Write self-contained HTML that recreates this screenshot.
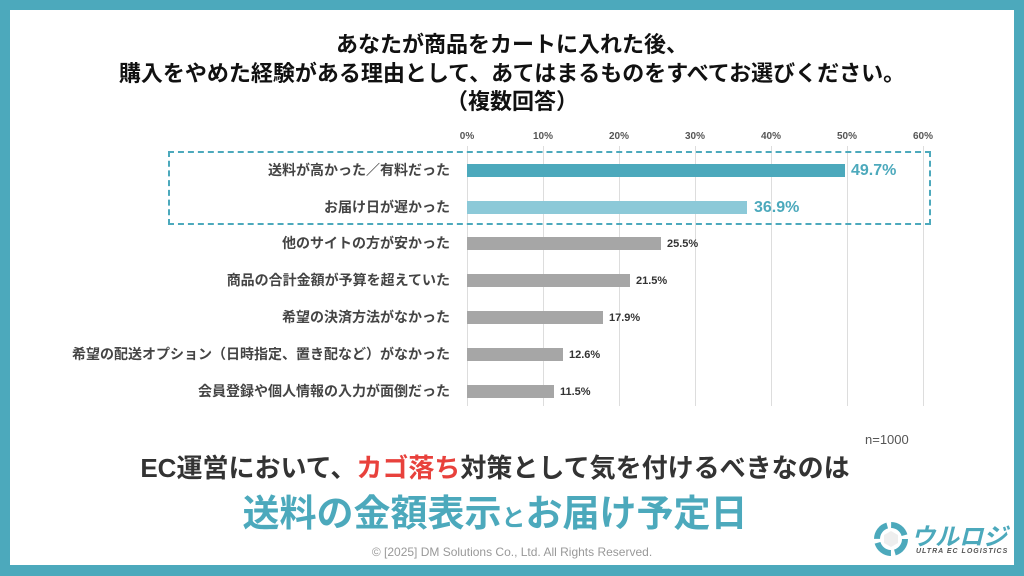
<!DOCTYPE html>
<html><head><meta charset="utf-8"><style>
*{margin:0;padding:0;box-sizing:border-box}
body{width:1024px;height:576px;background:#4ca9bc;position:relative;overflow:hidden;font-family:"Liberation Sans","Noto Sans CJK JP",sans-serif}
.inner{position:absolute;left:10px;top:10px;width:1004px;height:555px;background:#fff}
.a{position:absolute;white-space:nowrap}
.title{left:0;width:1024px;text-align:center;font-weight:bold;font-size:22px;color:#111;line-height:27px}
.tick{font-size:10px;font-weight:bold;color:#555;top:131px;transform:translateX(-50%)}
.grid{position:absolute;top:146px;width:1px;height:260px;background:#ddd}
.lab{right:574px;font-size:14px;font-weight:bold;color:#444;transform:translateY(-50%)}
.bar{position:absolute;left:467px;height:13px;background:#a6a6a6}
.val{font-size:11px;font-weight:bold;color:#333;transform:translateY(-50%)}
</style></head><body>
<div class="inner"></div>
<div class="a title" style="top:31px">あなたが商品をカートに入れた後、</div>
<div class="a title" style="top:60px">購入をやめた経験がある理由として、あてはまるものをすべてお選びください。</div>
<div class="a title" style="top:88px">（複数回答）</div>
<div class="a tick" style="left:467px">0%</div>
<div class="a tick" style="left:543px">10%</div>
<div class="a tick" style="left:619px">20%</div>
<div class="a tick" style="left:695px">30%</div>
<div class="a tick" style="left:771px">40%</div>
<div class="a tick" style="left:847px">50%</div>
<div class="a tick" style="left:923px">60%</div>
<div class="grid" style="left:467px"></div><div class="grid" style="left:543px"></div><div class="grid" style="left:619px"></div><div class="grid" style="left:695px"></div><div class="grid" style="left:771px"></div><div class="grid" style="left:847px"></div><div class="grid" style="left:923px"></div>
<div style="position:absolute;left:168px;top:151px;width:763px;height:74px;border:2.5px dashed #4ca9bc"></div>

<div class="a lab" style="top:170px">送料が高かった／有料だった</div>
<div class="bar" style="top:164px;width:378px;background:#4ca9bc"></div>
<div class="a val" style="left:851px;top:171px;font-size:16px;color:#4ca9bc">49.7%</div>

<div class="a lab" style="top:207px">お届け日が遅かった</div>
<div class="bar" style="top:201px;width:280px;background:#8cc9d8"></div>
<div class="a val" style="left:754px;top:208px;font-size:16px;color:#4ca9bc">36.9%</div>

<div class="a lab" style="top:243px">他のサイトの方が安かった</div>
<div class="bar" style="top:237px;width:194px"></div>
<div class="a val" style="left:667px;top:244px">25.5%</div>

<div class="a lab" style="top:280px">商品の合計金額が予算を超えていた</div>
<div class="bar" style="top:274px;width:163px"></div>
<div class="a val" style="left:636px;top:281px">21.5%</div>

<div class="a lab" style="top:317px">希望の決済方法がなかった</div>
<div class="bar" style="top:311px;width:136px"></div>
<div class="a val" style="left:609px;top:318px">17.9%</div>

<div class="a lab" style="top:354px">希望の配送オプション（日時指定、置き配など）がなかった</div>
<div class="bar" style="top:348px;width:96px"></div>
<div class="a val" style="left:569px;top:355px">12.6%</div>

<div class="a lab" style="top:391px">会員登録や個人情報の入力が面倒だった</div>
<div class="bar" style="top:385px;width:87px"></div>
<div class="a val" style="left:560px;top:392px">11.5%</div>

<div class="a" style="left:865px;top:432px;font-size:13px;color:#555">n=1000</div>
<div class="a" style="left:0;width:990px;text-align:center;top:448px;font-size:26px;font-weight:bold;color:#333">EC運営において、<span style="color:#e8413c">カゴ落ち</span>対策として気を付けるべきなのは</div>
<div class="a" style="left:0;width:990px;text-align:center;top:483px;font-size:37px;font-weight:bold;color:#4ca9bc">送料の金額表示<span style="font-size:24px">と</span>お届け予定日</div>
<div class="a" style="left:0;width:1024px;text-align:center;top:545px;font-size:12px;color:#999">© [2025] DM Solutions Co., Ltd. All Rights Reserved.</div>

<svg style="position:absolute;left:874px;top:522px" width="34" height="34" viewBox="0 0 34 34">
<circle cx="17" cy="17" r="14" fill="none" stroke="#4ca9bc" stroke-width="6" stroke-dasharray="18 4"/>
<polygon points="17,9 24,13 24,21 17,25 10,21 10,13" fill="#eee"/>
</svg>
<div class="a" style="left:911px;top:517px;font-size:24px;font-weight:bold;font-style:italic;color:#4ca9bc">ウルロジ</div>
<div class="a" style="left:916px;top:548px;font-size:7px;font-weight:bold;font-style:italic;color:#555;letter-spacing:1px">ULTRA EC LOGISTICS</div>
</body></html>
